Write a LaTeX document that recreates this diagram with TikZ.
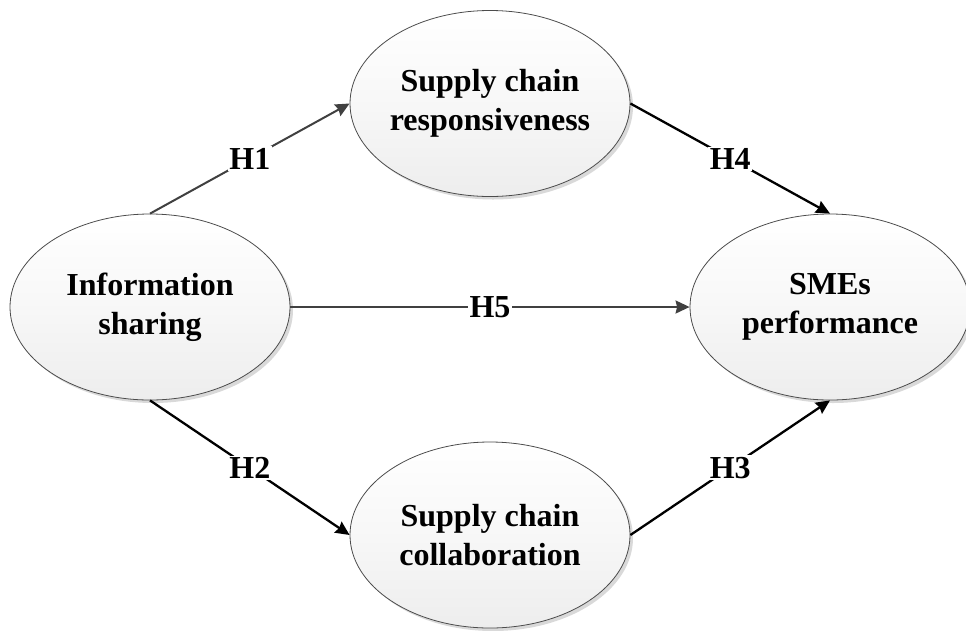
\documentclass[tikz,border=0pt]{standalone}
\usepackage{fontspec}
\setmainfont{Liberation Serif}
\usetikzlibrary{shapes.geometric,arrows.meta,shadows}
\definecolor{dgray}{HTML}{404040}
\begin{document}
\begin{tikzpicture}[x=1pt,y=-1pt,
  ell/.style={ellipse, draw=black!70, line width=0.8pt, minimum width=280pt, minimum height=186pt, inner sep=0pt,
    top color=white, bottom color=black!7, middle color=black!3,
    drop shadow={shadow xshift=3pt, shadow yshift=-3pt, fill=black!15, opacity=1}},
  txt/.style={font=\bfseries\fontsize{32}{39}\selectfont, align=center, inner sep=0pt},
  hl/.style={font=\bfseries\fontsize{32}{39}\selectfont, fill=white, inner sep=1.5pt},
  arr/.style={line width=2.3pt, -{Stealth[length=14pt,width=13pt,inset=1.5pt]}},
  garr/.style={arr, draw=dgray, line width=2pt}]
\useasboundingbox (0,0) rectangle (966,630);
\node[ell] (info) at (150,307) {};
\node[ell] (resp) at (490,103.5) {};
\node[ell] (coll) at (490,535) {};
\node[ell] (sme) at (830,307) {};
\node[txt] (infot) at (info.center) {Information\\sharing};
\node[txt] (respt) at (resp.center) {Supply chain\\responsiveness};
\node[txt] (collt) at (coll.center) {Supply chain\\collaboration};
\node[txt] (smet) at (sme.center) {SMEs\\performance};
\draw[garr] (info.north) -- node[hl] {H1} (resp.west);
\draw[arr] (info.south) -- node[hl] {H2} (coll.west);
\draw[garr] (info.east) -- node[hl] {H5} (sme.west);
\draw[arr] (resp.east) -- node[hl] {H4} (sme.north);
\draw[arr] (coll.east) -- node[hl] {H3} (sme.south);
\end{tikzpicture}
\end{document}
